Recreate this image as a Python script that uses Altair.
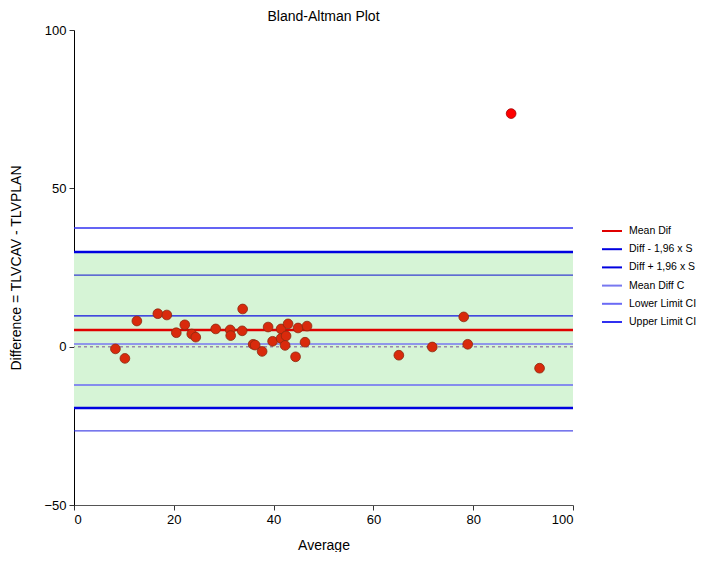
import altair as alt
import pandas as pd

# ---- data ----
avg = [8.3, 10.2, 12.6, 16.8, 18.6, 20.5, 22.2, 23.6, 24.4, 28.4, 31.3, 31.4,
       33.8, 33.7, 35.9, 36.3, 37.7, 38.9, 39.8, 41.5, 41.5, 42.5, 42.9, 42.3,
       44.4, 44.9, 46.3, 46.7, 65.1, 71.8, 78.1, 78.9, 93.3]
diff = [-0.7, -3.7, 8.1, 10.4, 10.0, 4.4, 6.9, 4.0, 3.0, 5.6, 5.3, 3.5,
        11.9, 5.0, 0.75, 0.5, -1.5, 6.2, 1.7, 5.6, 2.6, 3.4, 7.2, 0.4,
        -3.2, 5.9, 1.4, 6.5, -2.7, -0.1, 9.4, 0.75, -6.8]
outlier_avg = [87.6]
outlier_diff = [73.6]

mean_dif = [5.3]
loa_lower = [-19.4]
loa_upper = [29.9]
mean_ci = [0.85, 9.7]
lower_ci = [-26.6, -12.1]
upper_ci = [22.6, 37.5]

series = ["Mean Dif", "Diff - 1,96 x S", "Diff + 1,96 x S",
          "Mean Diff C", "Lower Limit CI", "Upper Limit CI"]
series_colors = ["#e00000", "#0000e0", "#0000e0", "#7878f0", "#6a6af5", "#3030f0"]

x_ticks = [0, 20, 40, 60, 80, 100]
y_ticks = [-50, 0, 50, 100]

FONT = "Liberation Sans"

pts = pd.DataFrame({"avg": avg, "diff": diff})
out = pd.DataFrame({"avg": outlier_avg, "diff": outlier_diff})
band = pd.DataFrame({"lo": loa_lower, "hi": loa_upper})

xs = alt.Scale(domain=[0, 100], nice=False)
ys = alt.Scale(domain=[-50, 100], nice=False)
cs = alt.Scale(domain=series, range=series_colors)

X = alt.X("avg:Q", scale=xs, title="Average",
          axis=alt.Axis(values=x_ticks, grid=False))
Y = alt.Y("diff:Q", scale=ys, title="Difference = TLVCAV - TLVPLAN",
          axis=alt.Axis(values=y_ticks, grid=False))

band_layer = alt.Chart(band).mark_rect(color="#d6f4d6").encode(
    y=alt.Y("lo:Q", scale=ys, title="Difference = TLVCAV - TLVPLAN",
            axis=alt.Axis(values=y_ticks, grid=False)),
    y2="hi:Q",
    x=alt.value(0), x2=alt.value(499),
)

def hline(vals, color=None, width=1.0, name=None, dash=None):
    df = pd.DataFrame({"v": vals, "s": [name] * len(vals)})
    kw = {"strokeWidth": width}
    if dash:
        kw["strokeDash"] = dash
    enc = {"y": alt.Y("v:Q", scale=ys)}
    if name is not None:
        enc["color"] = alt.Color("s:N", scale=cs, title=None, sort=series,
                                 legend=alt.Legend(
                                     orient="none", legendX=527, legendY=190,
                                     symbolType="stroke", symbolSize=400,
                                     symbolStrokeWidth=2, labelFont=FONT,
                                     labelFontSize=10.5, labelColor="#000",
                                     rowPadding=1.2, padding=0, labelOffset=6,
                                     labelLimit=200, values=series))
        m = alt.Chart(df).mark_rule(**kw)
    else:
        m = alt.Chart(df).mark_rule(color=color, **kw)
    return m.encode(**enc)

zero = alt.Chart(pd.DataFrame({"v": [0]})).mark_rule(
    color="#9a88aa", strokeWidth=1.5, strokeDash=[3, 3]).encode(
    y=alt.Y("v:Q", scale=ys))

lines = [
    hline(upper_ci[1:], name="Upper Limit CI", width=1.5),
    hline(upper_ci[:1], color="#1010d0", width=1),
    hline(loa_upper, name="Diff + 1,96 x S", width=2.5),
    hline(mean_ci[1:], color="#1010e0", width=1.2),
    hline(mean_dif, name="Mean Dif", width=2.5),
    zero,
    hline(mean_ci[:1], name="Mean Diff C", width=1.5),
    hline(lower_ci[1:], name="Lower Limit CI", width=1.5),
    hline(loa_lower, name="Diff - 1,96 x S", width=2.5),
    hline(lower_ci[:1], color="#2020e0", width=1),
]

pt_layer = alt.Chart(pts).mark_circle(
    size=95, color="#d92a0c", stroke="#8a2a10", strokeWidth=0.8, opacity=1
).encode(x=X, y=Y)
out_layer = alt.Chart(out).mark_circle(
    size=95, color="#ff0000", stroke="#a00000", strokeWidth=0.8, opacity=1
).encode(x=X, y=Y)

chart = alt.layer(band_layer, *lines, pt_layer, out_layer).properties(
    width=499, height=475,
    padding={"left": 1, "top": 2, "right": 0, "bottom": 0},
    title=alt.TitleParams("Bland-Altman Plot", font=FONT, fontSize=14,
                          fontWeight="normal", color="#000", offset=0),
).configure_view(stroke=None).configure_axis(
    labelFont=FONT, titleFont=FONT, labelFontSize=13, titleFontSize=14,
    titleFontWeight="normal", labelColor="#000", titleColor="#000",
    domainColor="#333", tickColor="#333", tickSize=5, labelPadding=3,
).configure_axisY(titlePadding=20, domainColor="#000").configure_axisX(
    titlePadding=12, domainColor="#555")

chart.save("out.html", embed_options={"renderer": "svg", "actions": False})
